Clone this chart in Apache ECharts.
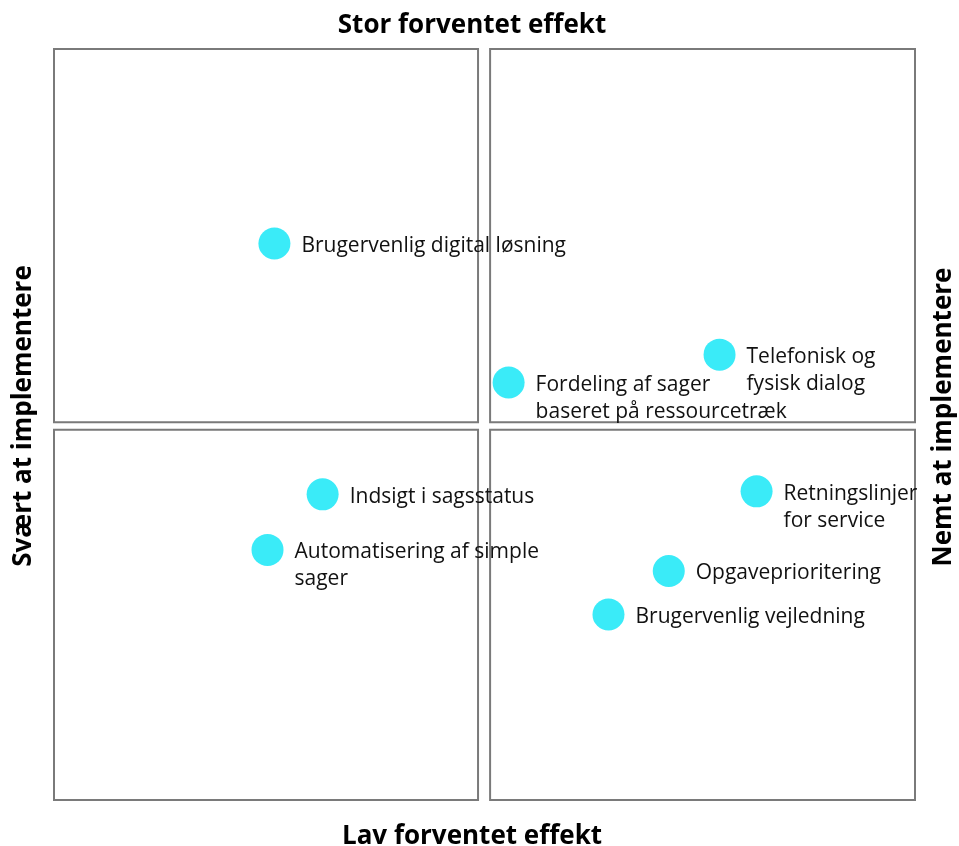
<!DOCTYPE html>
<html>
<head>
<meta charset="utf-8">
<script src="https://cdn.jsdelivr.net/npm/echarts@6/dist/echarts.min.js"></script>
<style>
  html, body { margin: 0; padding: 0; background: #fff; }
  #chart { width: 959px; height: 846px; }
</style>
</head>
<body>
<div id="chart"></div>
<script>
// indsatser: x = hvor nemt at implementere, y = forventet effekt
var names = [
  "Brugervenlig digital løsning",
  "Telefonisk og\nfysisk dialog",
  "Fordeling af sager\nbaseret på ressourcetræk",
  "Indsigt i sagsstatus",
  "Automatisering af simple\nsager",
  "Retningslinjer\nfor service",
  "Opgaveprioritering",
  "Brugervenlig vejledning"
];
var ease = [25.6, 77.3, 52.8, 31.2, 24.8, 81.6, 71.4, 64.4];
var effect = [74.1, 59.3, 55.6, 40.7, 33.3, 41.1, 30.5, 24.7];

// kvadranter (dataenheder)
var quadrants = [
  [[0, 50.3], [49.25, 100]],
  [[50.65, 50.3], [100, 100]],
  [[0, 0], [49.25, 49.3]],
  [[50.65, 0], [100, 49.3]]
];

var points = names.map(function (n, i) {
  return { name: n, value: [ease[i], effect[i]] };
});

var titleFont = "bold 26px 'Open Sans'";

var chart = echarts.init(document.getElementById("chart"));
var option = {
  animation: false,
  textStyle: { fontFamily: "Open Sans" },
  grid: { left: 54, right: 44, top: 49, bottom: 46 },
  xAxis: {
    type: "value", min: 0, max: 100,
    axisLine: { show: false }, axisTick: { show: false },
    axisLabel: { show: false }, splitLine: { show: false }
  },
  yAxis: {
    type: "value", min: 0, max: 100,
    axisLine: { show: false }, axisTick: { show: false },
    axisLabel: { show: false }, splitLine: { show: false }
  },
  graphic: [
    { type: "text", x: 472, y: 26,
      style: { text: "Stor forventet effekt", font: titleFont, fill: "#000",
        align: "center", verticalAlign: "middle" } },
    { type: "text", x: 472, y: 837,
      style: { text: "Lav forventet effekt", font: titleFont, fill: "#000",
        align: "center", verticalAlign: "middle" } },
    { type: "text", x: 24, y: 416, rotation: Math.PI / 2,
      style: { text: "Svært at implementere", font: titleFont, fill: "#000",
        align: "center", verticalAlign: "middle" } },
    { type: "text", x: 944, y: 417, rotation: Math.PI / 2,
      style: { text: "Nemt at implementere", font: titleFont, fill: "#000",
        align: "center", verticalAlign: "middle" } }
  ],
  series: [
    {
      type: "scatter",
      clip: false,
      symbolSize: 32,
      itemStyle: { color: "#3aebf8", opacity: 1 },
      label: {
        show: true,
        position: "right",
        distance: 10,
        formatter: "{b}",
        color: "#111",
        fontSize: 21,
        lineHeight: 27,
        verticalAlign: "top",
        offset: [1, -11]
      },
      data: points,
      markArea: {
        silent: true,
        itemStyle: { color: "rgba(0,0,0,0)", borderColor: "#7a7a7a", borderWidth: 2 },
        data: quadrants.map(function (q) {
          return [{ coord: q[0] }, { coord: q[1] }];
        })
      }
    }
  ]
};
chart.setOption(option);
</script>
</body>
</html>
